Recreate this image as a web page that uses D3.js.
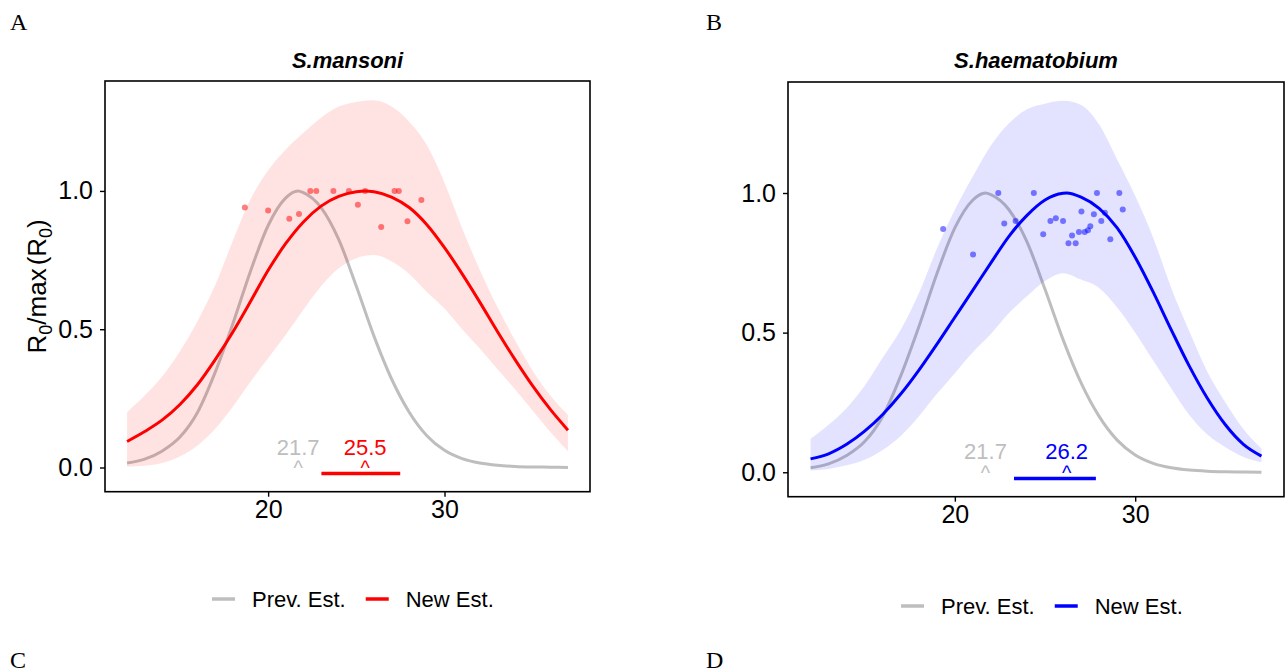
<!DOCTYPE html>
<html><head><meta charset="utf-8">
<script src="https://cdn.jsdelivr.net/npm/d3@7"></script>
<style>body{margin:0;background:#fff;} svg{display:block;}</style>
</head><body>
<svg id="chart" width="1286" height="672"></svg>
<script>
// ---------- data ----------
const tempGrid = [12,13,14,15,16,17,18,19,20,21,22,23,24,25,26,27,28,29,30,31,32,33,34,35,36,37];

// previous estimate (same curve in both panels), peak 21.7
const prevX   = [12,13,14,15,16,17,18,19,20,21,21.7,22,23,24,25,26,27,28,29,30,31,32,33,34,35,36,37];
const prevEst = [0.016,0.03,0.06,0.11,0.2,0.345,0.52,0.71,0.875,0.975,1.0,0.994,0.94,0.825,0.655,0.475,0.32,0.2,0.115,0.062,0.032,0.016,0.008,0.004,0.002,0.001,0.0];

// S. mansoni
const mansoniX     = [12,13,14,15,16,17,18,19,20,21,22,23,24,25,25.5,26,27,28,29,30,31,32,33,34,35,36,37];
const mansoniNew   = [0.094,0.13,0.172,0.228,0.3,0.39,0.49,0.6,0.713,0.81,0.888,0.945,0.98,0.997,1.0,0.997,0.978,0.94,0.878,0.795,0.70,0.598,0.492,0.39,0.295,0.21,0.135];
const mansoniUpper = [0.2,0.26,0.33,0.42,0.53,0.66,0.82,0.97,1.075,1.15,1.21,1.265,1.305,1.322,1.328,1.305,1.25,1.165,1.03,0.865,0.715,0.58,0.46,0.35,0.26,0.19];
const mansoniLower = [0.003,0.006,0.016,0.04,0.08,0.14,0.22,0.31,0.395,0.48,0.57,0.655,0.72,0.757,0.768,0.745,0.70,0.635,0.575,0.5,0.43,0.355,0.283,0.205,0.128,0.058];
const mansoniObsT  = [18.68,20.0,21.2,21.75,22.39,22.73,23.7,24.58,25.09,25.5,26.41,27.17,27.41,27.9,28.69];
const mansoniObsR  = [0.94,0.929,0.899,0.917,1.0,1.0,1.0,1.0,0.95,1.0,0.87,1.0,1.0,0.89,0.967];

// S. haematobium
const haemX     = [12,13,14,15,16,17,18,19,20,21,22,23,24,25,26,26.2,27,28,29,30,31,32,33,34,35,36,37];
const haemNew   = [0.048,0.066,0.1,0.147,0.207,0.28,0.365,0.458,0.555,0.652,0.75,0.845,0.92,0.975,0.999,1.0,0.985,0.945,0.875,0.77,0.645,0.51,0.38,0.265,0.17,0.1,0.058];
const haemUpper = [0.12,0.17,0.23,0.31,0.41,0.51,0.64,0.8,0.94,1.06,1.17,1.25,1.3,1.32,1.33,1.315,1.245,1.12,0.99,0.84,0.66,0.505,0.36,0.25,0.155,0.085];
const haemLower = [0.006,0.012,0.025,0.045,0.08,0.13,0.2,0.28,0.355,0.43,0.495,0.57,0.63,0.685,0.713,0.69,0.66,0.59,0.5,0.4,0.3,0.205,0.135,0.09,0.055,0.036];
const haemObsT  = [19.35,21.01,22.41,22.74,23.37,24.38,24.9,25.3,25.6,26.0,26.3,26.5,26.7,26.88,27.02,27.2,27.38,27.51,27.71,27.88,28.12,28.32,28.62,29.12,29.31];
const haemObsR  = [0.871,0.78,1.0,0.891,0.90,1.0,0.852,0.90,0.91,0.90,0.82,0.848,0.82,0.86,0.934,0.86,0.867,0.881,0.924,1.0,0.90,0.929,0.834,1.0,0.941];

const peakLabels = ["21.7","25.5","26.2"];
const prevPeak = 21.7;
const mansoniPeak = 25.5, mansoniCI = [23.02, 27.49];
const haemPeak = 26.2, haemCI = [23.28, 27.82];
const xTicks = [20, 30];
const yTicks = [0, 0.5, 1.0];
const legendLabels = ["Prev. Est.", "New Est."];
const panelLetters = ["A","B","C","D"];
const titles = ["S.mansoni", "S.haematobium"];

// ---------- drawing ----------
const svg = d3.select("#chart");
const FONT = "'Liberation Sans', Arial, sans-serif";
const GREY = "#BEBEBE";

const panels = [
  {left:105, right:590, top:81, bottom:491.7, title:titles[0], color:"#FF0000",
   nx:mansoniX, ny:mansoniNew, up:mansoniUpper, lo:mansoniLower, ot:mansoniObsT, orr:mansoniObsR,
   peak:mansoniPeak, label:peakLabels[1], ci:mansoniCI, legX:212, legY:599, ylab:true},
  {left:788, right:1284, top:82, bottom:496.7, title:titles[1], color:"#0000FF",
   nx:haemX, ny:haemNew, up:haemUpper, lo:haemLower, ot:haemObsT, orr:haemObsR,
   peak:haemPeak, label:peakLabels[2], ci:haemCI, legX:901, legY:606, ylab:false}
];

panels.forEach((p, i) => {
  const x = d3.scaleLinear().domain([10.75, 38.25]).range([p.left, p.right]);
  const y = d3.scaleLinear().domain([-0.0875, 1.3975]).range([p.bottom, p.top]);
  const g = svg.append("g");
  const clipId = "clip" + i;
  svg.append("clipPath").attr("id", clipId).append("rect")
    .attr("x", p.left).attr("y", p.top).attr("width", p.right - p.left).attr("height", p.bottom - p.top);
  const pg = g.append("g").attr("clip-path", `url(#${clipId})`);

  const line = d3.line().curve(d3.curveMonotoneX);

  // previous estimate
  pg.append("path").attr("d", line(prevX.map((t, k) => [x(t), y(prevEst[k])])))
    .attr("fill", "none").attr("stroke", GREY).attr("stroke-width", 3);

  // ribbon
  const area = d3.area().curve(d3.curveMonotoneX)
    .x((t) => x(t)).y0((t, k) => y(p.lo[k])).y1((t, k) => y(p.up[k]));
  pg.append("path").attr("d", area(tempGrid)).attr("fill", p.color).attr("fill-opacity", 0.11);

  // observed points
  pg.selectAll("circle.obs").data(p.ot).join("circle").attr("class", "obs")
    .attr("cx", (t) => x(t)).attr("cy", (t, k) => y(p.orr[k])).attr("r", 3)
    .attr("fill", p.color).attr("fill-opacity", 0.5);

  // new estimate
  pg.append("path").attr("d", line(p.nx.map((t, k) => [x(t), y(p.ny[k])])))
    .attr("fill", "none").attr("stroke", p.color).attr("stroke-width", 3);

  // CI bar
  pg.append("line").attr("x1", x(p.ci[0])).attr("x2", x(p.ci[1]))
    .attr("y1", y(-0.022)).attr("y2", y(-0.022))
    .attr("stroke", p.color).attr("stroke-width", 3.5);

  // peak annotations
  const ann = [[prevPeak, peakLabels[0], GREY], [p.peak, p.label, p.color]];
  ann.forEach(([t, lab, col]) => {
    pg.append("text").attr("x", x(t)).attr("y", y(0) - 13).attr("text-anchor", "middle")
      .attr("font-family", FONT).attr("font-size", 22).attr("fill", col).text(lab);
    pg.append("text").attr("x", x(t)).attr("y", y(0) + 7.5).attr("text-anchor", "middle")
      .attr("font-family", FONT).attr("font-size", 20).attr("fill", col).text("^");
  });

  // frame
  g.append("rect").attr("x", p.left).attr("y", p.top)
    .attr("width", p.right - p.left).attr("height", p.bottom - p.top)
    .attr("fill", "none").attr("stroke", "#000").attr("stroke-width", 1.6);

  // axes
  const ax = g.append("g").attr("transform", `translate(0,${p.bottom})`)
    .call(d3.axisBottom(x).tickValues(xTicks).tickSize(5).tickPadding(4).tickFormat(d3.format("d")));
  const ay = g.append("g").attr("transform", `translate(${p.left},0)`)
    .call(d3.axisLeft(y).tickValues(yTicks).tickSize(5).tickPadding(7).tickFormat(d3.format(".1f")));
  [ax, ay].forEach((a) => {
    a.select(".domain").remove();
    a.selectAll(".tick line").attr("stroke", "#000").attr("stroke-width", 1.4);
    a.selectAll(".tick text").attr("font-family", FONT).attr("font-size", 25).attr("fill", "#000");
  });

  // title
  svg.append("text").attr("x", (p.left + p.right) / 2).attr("y", 67.5).attr("text-anchor", "middle")
    .attr("font-family", FONT).attr("font-size", 22).attr("font-weight", "bold").attr("font-style", "italic")
    .attr("fill", "#000").text(p.title);

  // legend
  const lg = svg.append("g");
  let cx = p.legX;
  [[GREY, legendLabels[0]], [p.color, legendLabels[1]]].forEach(([col, lab]) => {
    lg.append("line").attr("x1", cx).attr("x2", cx + 23).attr("y1", p.legY).attr("y2", p.legY)
      .attr("stroke", col).attr("stroke-width", 3.5);
    const tx = lg.append("text").attr("x", cx + 40).attr("y", p.legY + 8)
      .attr("font-family", FONT).attr("font-size", 22).attr("fill", "#000").text(lab);
    cx = cx + 40 + tx.node().getComputedTextLength() + 20;
  });

  // y-axis label
  if (p.ylab) {
    const yl = svg.append("text").attr("transform", `translate(46,${(p.top + p.bottom) / 2}) rotate(-90)`)
      .attr("text-anchor", "middle").attr("font-family", FONT).attr("font-size", 26).attr("fill", "#000");
    yl.append("tspan").text("R");
    yl.append("tspan").attr("font-size", 18).attr("dy", 6).text("0");
    yl.append("tspan").attr("dy", -6).text("/max");
    yl.append("tspan").attr("dx", 3).text("(R");
    yl.append("tspan").attr("font-size", 18).attr("dy", 6).text("0");
    yl.append("tspan").attr("dy", -6).text(")");
  }
});

// panel letters
const letterPos = [[10, 30], [706, 30], [10, 668], [706, 668]];
panelLetters.forEach((L, i) => {
  svg.append("text").attr("x", letterPos[i][0]).attr("y", letterPos[i][1])
    .attr("font-family", "'Liberation Serif', 'Times New Roman', serif").attr("font-size", 24)
    .attr("fill", "#000").text(L);
});
</script>
</body></html>
